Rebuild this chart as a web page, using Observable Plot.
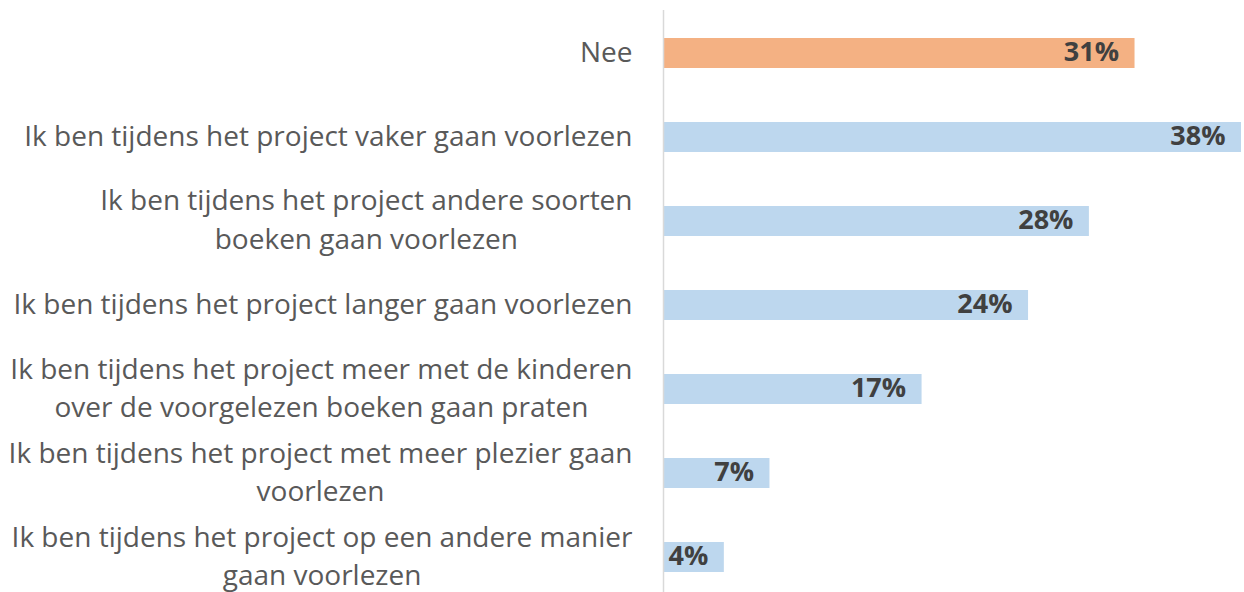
<!DOCTYPE html>
<html>
<head>
<meta charset="utf-8">
<script src="https://cdn.jsdelivr.net/npm/d3@7"></script>
<script src="https://cdn.jsdelivr.net/npm/@observablehq/plot@0.6"></script>
<style>
  html, body { margin: 0; padding: 0; background: #fff; }
  #chart svg { display: block; }
</style>
</head>
<body>
<div id="chart"></div>
<script>
const categories = [
  "Nee",
  "Ik ben tijdens het project vaker gaan voorlezen",
  "Ik ben tijdens het project andere soorten\nboeken gaan voorlezen",
  "Ik ben tijdens het project langer gaan voorlezen",
  "Ik ben tijdens het project meer met de kinderen\nover de voorgelezen boeken gaan praten",
  "Ik ben tijdens het project met meer plezier gaan\nvoorlezen",
  "Ik ben tijdens het project op een andere manier\ngaan voorlezen"
];
const values = [31, 38, 28, 24, 17, 7, 4];
const groups = ["nee", "ja", "ja", "ja", "ja", "ja", "ja"];
const valueLabels = ["31%", "38%", "28%", "24%", "17%", "7%", "4%"];

const data = categories.map((c, i) => ({cat: c, value: values[i], group: groups[i], label: valueLabels[i]}));

const labelFont = "28px 'Open Sans'";
const ctx = document.createElement("canvas").getContext("2d");
ctx.font = labelFont;
const blockWidth = c => d3.max(c.split("\n"), l => ctx.measureText(l).width);

const labelMarks = data.map(d => Plot.text([d], {
  y: "cat",
  frameAnchor: "left",
  text: "cat",
  textAnchor: "middle",
  lineAnchor: "middle",
  lineHeight: 1.39,
  dx: -(31 + blockWidth(d.cat) / 2),
  dy: -4,
  fill: "#595959",
  fontSize: 28,
  fontFamily: "Open Sans"
}));

const chart = Plot.plot({
  width: 1244,
  height: 592,
  marginLeft: 663,
  marginRight: 3,
  marginTop: 10,
  marginBottom: 0,
  style: {fontFamily: "Open Sans", background: "#fff", overflow: "visible"},
  x: {domain: [0, 38], axis: null},
  y: {domain: categories, range: [38, 572], paddingInner: 0.643, paddingOuter: 0, round: false, axis: null},
  color: {domain: ["nee", "ja"], range: ["#F4B183", "#BDD7EE"]},
  marks: [
    Plot.barX(data, {x: "value", y: "cat", fill: "group"}),
    Plot.ruleX([0], {stroke: "#d9d9d9", strokeWidth: 1.5}),
    Plot.text(data, {
      x: "value", y: "cat", text: "label",
      textAnchor: "end", dx: -16, dy: -1,
      fill: "#404040", fontSize: 27, fontWeight: "bold", fontFamily: "Open Sans"
    }),
    ...labelMarks
  ]
});
document.getElementById("chart").appendChild(chart);
</script>
</body>
</html>
